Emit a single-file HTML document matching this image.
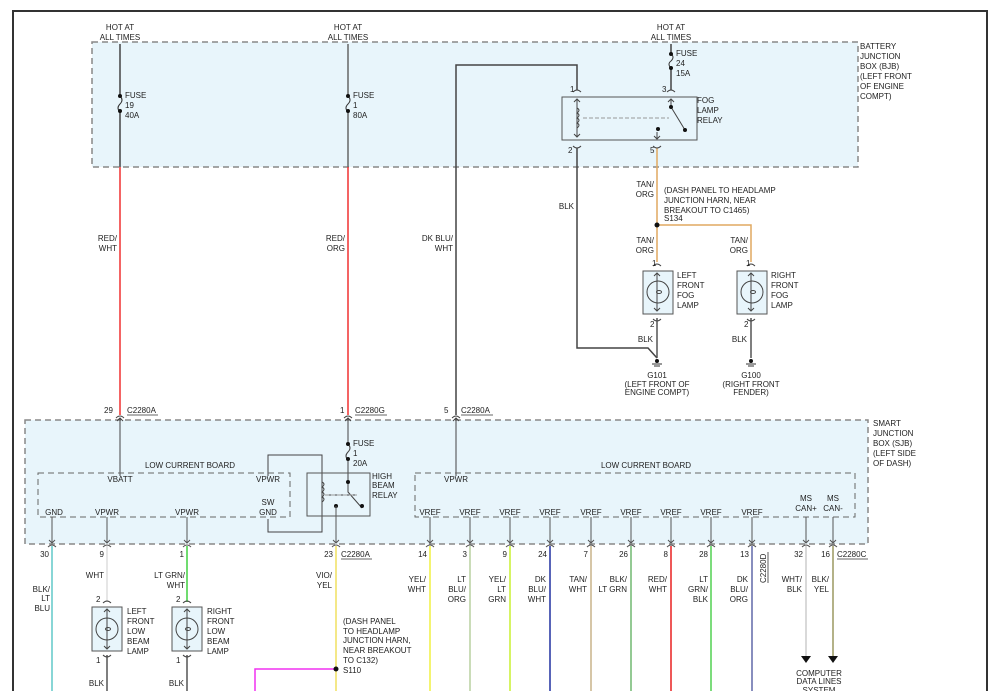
<!DOCTYPE html>
<html><head><meta charset="utf-8"><style>
html,body{margin:0;padding:0;background:#fff;}
svg{display:block;}
text{font-family:"Liberation Sans",sans-serif;font-size:8px;fill:#222;}
.r{text-anchor:end}.m{text-anchor:middle}
</style></head><body>
<svg width="1002" height="691" viewBox="0 0 1002 691" xmlns="http://www.w3.org/2000/svg">
<rect x="0" y="0" width="1002" height="691" fill="#fff"/>
<path d="M13,691 V11 H987 V691" fill="none" stroke="#333" stroke-width="2"/>

<!-- BJB -->
<rect x="92" y="42" width="766" height="125" fill="#e8f5fb" stroke="#888" stroke-width="1.5" stroke-dasharray="6,4"/>
<g fill="#333" class="">
<text class="m" x="120" y="30">HOT AT</text><text class="m" x="120" y="40">ALL TIMES</text>
<text class="m" x="348" y="30">HOT AT</text><text class="m" x="348" y="40">ALL TIMES</text>
<text class="m" x="671" y="30">HOT AT</text><text class="m" x="671" y="40">ALL TIMES</text>
</g>
<text x="860" y="49">BATTERY</text><text x="860" y="59">JUNCTION</text><text x="860" y="69">BOX (BJB)</text><text x="860" y="79">(LEFT FRONT</text><text x="860" y="89">OF ENGINE</text><text x="860" y="99">COMPT)</text>

<!-- wires BJB -->
<g fill="none" stroke-width="1.5">
<path d="M120,44 V96 M120,112 V167" stroke="#444"/>
<path d="M120,167 V415" stroke="#f03030"/>
<path d="M348,44 V96 M348,112 V167" stroke="#666"/>
<path d="M348,167 V415" stroke="#f03030"/>
<path d="M456,415 V65 H577 V90" stroke="#444"/>
<path d="M671,44 V54 M671,68 V90" stroke="#444"/>
<path d="M577,148 V348 H648 L657,358" stroke="#444"/>
<path d="M657,148 V262" stroke="#e0a860"/>
<path d="M657,225 H751 V262" stroke="#e0a860"/>
<path d="M657,318 V358 M751,318 V358" stroke="#555"/>
<!-- fuses -->
<path d="M120,96 q4,4 0,8 q-4,4 0,8" stroke="#333" stroke-width="1"/>
<path d="M348,96 q4,4 0,8 q-4,4 0,8" stroke="#333" stroke-width="1"/>
<path d="M671,54 q4,3 0,7 q-4,3 0,7" stroke="#333" stroke-width="1"/>
</g>
<g fill="#111"><circle cx="120" cy="96" r="2"/><circle cx="120" cy="111" r="2"/><circle cx="348" cy="96" r="2"/><circle cx="348" cy="111" r="2"/><circle cx="671" cy="54" r="2"/><circle cx="671" cy="68" r="2"/></g>
<text x="125" y="98">FUSE</text><text x="125" y="108">19</text><text x="125" y="118">40A</text>
<text x="353" y="98">FUSE</text><text x="353" y="108">1</text><text x="353" y="118">80A</text>
<text x="676" y="56">FUSE</text><text x="676" y="66">24</text><text x="676" y="76">15A</text>

<!-- fog relay -->
<rect x="562" y="97" width="135" height="43" fill="#e8f5fb" stroke="#555" stroke-width="1"/>
<g fill="none" stroke="#444" stroke-width="1">
<path d="M573,92 q4,-4 8,0 M667,92 q4,-4 8,0 M573,146 q4,4 8,0 M653,146 q4,4 8,0"/>
<path d="M577,99 V137 M574,102 l3,-3 l3,3 M574,134 l3,3 l3,-3"/>
<path d="M577,108 q4,2 0,5 q4,2 0,5 q4,2 0,5 q4,2 0,5" />
<path d="M583,118 H669" stroke="#999" stroke-dasharray="4,2"/>
<path d="M671,99 V107 L685,130 M668,102 l3,-3 l3,3"/>
<path d="M657,132 V139 M654,136 l3,3 l3,-3"/>
</g>
<g fill="#111"><circle cx="671" cy="107" r="2"/><circle cx="685" cy="130" r="2"/><circle cx="658" cy="129" r="2"/><circle cx="657" cy="225" r="2.5"/></g>
<text x="697" y="103">FOG</text><text x="697" y="113">LAMP</text><text x="697" y="123">RELAY</text>
<text x="570" y="92">1</text><text x="662" y="92">3</text><text x="568" y="153">2</text><text x="650" y="153">5</text>

<text class="r" x="117" y="241">RED/</text><text class="r" x="117" y="251">WHT</text>
<text class="r" x="345" y="241">RED/</text><text class="r" x="345" y="251">ORG</text>
<text class="r" x="453" y="241">DK BLU/</text><text class="r" x="453" y="251">WHT</text>
<text class="r" x="574" y="209">BLK</text>
<text class="r" x="654" y="187">TAN/</text><text class="r" x="654" y="197">ORG</text>
<text x="664" y="193">(DASH PANEL TO HEADLAMP</text><text x="664" y="203">JUNCTION HARN, NEAR</text><text x="664" y="213">BREAKOUT TO C1465)</text><text x="664" y="221">S134</text>
<text class="r" x="654" y="243">TAN/</text><text class="r" x="654" y="253">ORG</text>
<text class="r" x="748" y="243">TAN/</text><text class="r" x="748" y="253">ORG</text>

<!-- fog lamps -->
<g id="fl">
<rect x="643" y="271" width="30" height="43" fill="#e8f5fb" stroke="#555"/>
<g fill="none" stroke="#444" stroke-width="1">
<path d="M653,266 q4,-4 8,0 M653,319 q4,4 8,0"/>
<circle cx="658" cy="292" r="11"/>
<path d="M657,273 V311 M654,276 l3,-3 l3,3 M654,308 l3,3 l3,-3"/>
<ellipse cx="659" cy="292" rx="2.5" ry="1.5"/>
</g></g>
<use href="#fl" transform="translate(94,0)"/>
<text x="652" y="266">1</text><text x="746" y="266">1</text><text x="650" y="327">2</text><text x="744" y="327">2</text>
<text x="677" y="278">LEFT</text><text x="677" y="288">FRONT</text><text x="677" y="298">FOG</text><text x="677" y="308">LAMP</text>
<text x="771" y="278">RIGHT</text><text x="771" y="288">FRONT</text><text x="771" y="298">FOG</text><text x="771" y="308">LAMP</text>
<text class="r" x="653" y="342">BLK</text><text class="r" x="747" y="342">BLK</text>
<g fill="#111"><circle cx="657" cy="361" r="2"/><circle cx="751" cy="361" r="2"/></g>
<path d="M652,364 h10 M654,366 h6 M752,364 h0 M746,364 h10 M748,366 h6" stroke="#333"/>
<text class="m" x="657" y="378">G101</text><text class="m" x="657" y="387">(LEFT FRONT OF</text><text class="m" x="657" y="395">ENGINE COMPT)</text>
<text class="m" x="751" y="378">G100</text><text class="m" x="751" y="387">(RIGHT FRONT</text><text class="m" x="751" y="395">FENDER)</text>

<!-- SJB -->
<rect x="25" y="420" width="843" height="124" fill="#e8f5fb" stroke="#888" stroke-width="1.5" stroke-dasharray="6,4"/>
<text x="873" y="426">SMART</text><text x="873" y="436">JUNCTION</text><text x="873" y="446">BOX (SJB)</text><text x="873" y="456">(LEFT SIDE</text><text x="873" y="466">OF DASH)</text>
<text x="104" y="413">29</text><text x="127" y="413">C2280A</text><path d="M127,415 H158" stroke="#333" stroke-width=".8"/>
<text x="340" y="413">1</text><text x="355" y="413">C2280G</text><path d="M355,415 H387" stroke="#333" stroke-width=".8"/>
<text x="444" y="413">5</text><text x="461" y="413">C2280A</text><path d="M461,415 H493" stroke="#333" stroke-width=".8"/>
<g fill="none" stroke="#444" stroke-width="1">
<path d="M116,418 q4,-4 8,0 M344,418 q4,-4 8,0 M452,418 q4,-4 8,0"/>
<path d="M120,418 V476 M117,421 l3,-3 l3,3"/>
<path d="M348,418 V444 M348,460 V492 L362,508 M345,421 l3,-3 l3,3"/>
<path d="M348,444 q4,4 0,8 q-4,4 0,8" />
<path d="M456,418 V476 M453,421 l3,-3 l3,3"/>
<path d="M268,476 V455 H322 V532 H268 V519"/>
</g>
<g fill="#111"><circle cx="348" cy="444" r="2"/><circle cx="348" cy="459" r="2"/><circle cx="348" cy="482" r="2"/><circle cx="362" cy="506" r="2"/><circle cx="336" cy="506" r="2"/></g>
<text x="353" y="446">FUSE</text><text x="353" y="456">1</text><text x="353" y="466">20A</text>
<rect x="38" y="473" width="252" height="44" fill="none" stroke="#666" stroke-dasharray="6,4"/>
<rect x="415" y="473" width="440" height="44" fill="none" stroke="#666" stroke-dasharray="6,4"/>
<rect x="307" y="473" width="63" height="43" fill="none" stroke="#555"/>
<path d="M322,482 q4,2 0,5 q4,2 0,5 q4,2 0,5 q4,2 0,5 M325,495 H357" fill="none" stroke="#444"/>
<path d="M325,495 H357" stroke="#999" stroke-dasharray="4,2"/>
<text x="372" y="479">HIGH</text><text x="372" y="488">BEAM</text><text x="372" y="498">RELAY</text>
<text class="m" x="190" y="468">LOW CURRENT BOARD</text>
<text class="m" x="646" y="468">LOW CURRENT BOARD</text>
<text class="m" x="120" y="482">VBATT</text><text class="m" x="268" y="482">VPWR</text>
<text class="m" x="268" y="505">SW</text><text class="m" x="268" y="515">GND</text>
<text class="m" x="54" y="515">GND</text><text class="m" x="107" y="515">VPWR</text><text class="m" x="187" y="515">VPWR</text>
<text class="m" x="456" y="482">VPWR</text>
<g class="m">
<text class="m" x="430" y="515">VREF</text><text class="m" x="470" y="515">VREF</text><text class="m" x="510" y="515">VREF</text><text class="m" x="550" y="515">VREF</text><text class="m" x="591" y="515">VREF</text><text class="m" x="631" y="515">VREF</text><text class="m" x="671" y="515">VREF</text><text class="m" x="711" y="515">VREF</text><text class="m" x="752" y="515">VREF</text>
</g>
<text class="m" x="806" y="501">MS</text><text class="m" x="806" y="511">CAN+</text>
<text class="m" x="833" y="501">MS</text><text class="m" x="833" y="511">CAN-</text>
<!-- pins down arrows -->
<g fill="none" stroke="#555" stroke-width="1">
<path d="M52,517 V543 M107,517 V543 M187,517 V543 M336,506 V543 M430,517 V543 M470,517 V543 M510,517 V543 M550,517 V543 M591,517 V543 M631,517 V543 M671,517 V543 M711,517 V543 M752,517 V543 M806,517 V543 M833,517 V543"/>
<path d="M49,540 l3,3 l3,-3 M104,540 l3,3 l3,-3 M184,540 l3,3 l3,-3 M333,540 l3,3 l3,-3 M427,540 l3,3 l3,-3 M467,540 l3,3 l3,-3 M507,540 l3,3 l3,-3 M547,540 l3,3 l3,-3 M588,540 l3,3 l3,-3 M628,540 l3,3 l3,-3 M668,540 l3,3 l3,-3 M708,540 l3,3 l3,-3 M749,540 l3,3 l3,-3 M803,540 l3,3 l3,-3 M830,540 l3,3 l3,-3"/>
<path d="M48,547 q4,-4 8,0 M103,547 q4,-4 8,0 M183,547 q4,-4 8,0 M332,547 q4,-4 8,0 M426,547 q4,-4 8,0 M466,547 q4,-4 8,0 M506,547 q4,-4 8,0 M546,547 q4,-4 8,0 M587,547 q4,-4 8,0 M627,547 q4,-4 8,0 M667,547 q4,-4 8,0 M707,547 q4,-4 8,0 M748,547 q4,-4 8,0 M802,547 q4,-4 8,0 M829,547 q4,-4 8,0"/>
</g>
<!-- bottom wires -->
<g fill="none" stroke-width="1.5">
<path d="M52,546 V691" stroke="#60c8c8"/>
<path d="M107,546 V602" stroke="#ddd"/>
<path d="M187,546 V602" stroke="#40d040"/>
<path d="M107,655 V691 M187,655 V691" stroke="#555"/>
<path d="M336,546 V691" stroke="#f0e060"/>
<path d="M336,669 H255 V691" stroke="#f030f0"/>
<path d="M430,546 V691" stroke="#f0f040"/>
<path d="M470,546 V691" stroke="#b8d0a0"/>
<path d="M510,546 V691" stroke="#c8f030"/>
<path d="M550,546 V691" stroke="#2030a0"/>
<path d="M591,546 V691" stroke="#c8b48a"/>
<path d="M631,546 V691" stroke="#70b870"/>
<path d="M671,546 V691" stroke="#e82020"/>
<path d="M711,546 V691" stroke="#50d050"/>
<path d="M752,546 V691" stroke="#6068a8"/>
<path d="M806,546 V656" stroke="#ccc"/>
<path d="M833,546 V656" stroke="#9a9860"/>
</g>
<path d="M801,656 h10 l-5,7z M828,656 h10 l-5,7z" fill="#111"/>
<circle cx="336" cy="669" r="2.5" fill="#111"/>
<text class="r" x="49" y="557">30</text><text class="r" x="104" y="557">9</text><text class="r" x="184" y="557">1</text><text class="r" x="333" y="557">23</text>
<text x="341" y="557">C2280A</text><path d="M341,559 H372" stroke="#333" stroke-width=".8"/>
<text class="r" x="427" y="557">14</text><text class="r" x="467" y="557">3</text><text class="r" x="507" y="557">9</text><text class="r" x="547" y="557">24</text><text class="r" x="588" y="557">7</text><text class="r" x="628" y="557">26</text><text class="r" x="668" y="557">8</text><text class="r" x="708" y="557">28</text><text class="r" x="749" y="557">13</text><text class="r" x="803" y="557">32</text><text class="r" x="830" y="557">16</text>
<text x="837" y="557">C2280C</text><path d="M837,559 H868" stroke="#333" stroke-width=".8"/>
<text transform="translate(766,583) rotate(-90)">C2280D</text><path d="M768,552 V583" stroke="#333" stroke-width=".8"/>
<text class="r" x="50" y="592">BLK/</text><text class="r" x="50" y="601">LT</text><text class="r" x="50" y="611">BLU</text>
<text class="r" x="104" y="578">WHT</text>
<text class="r" x="185" y="578">LT GRN/</text><text class="r" x="185" y="588">WHT</text>
<text class="r" x="332" y="578">VIO/</text><text class="r" x="332" y="588">YEL</text>
<text x="343" y="624">(DASH PANEL</text><text x="343" y="634">TO HEADLAMP</text><text x="343" y="643">JUNCTION HARN,</text><text x="343" y="653">NEAR BREAKOUT</text><text x="343" y="663">TO C132)</text><text x="343" y="673">S110</text>
<g>
<text class="r" x="426" y="582">YEL/</text><text class="r" x="426" y="592">WHT</text>
<text class="r" x="466" y="582">LT</text><text class="r" x="466" y="592">BLU/</text><text class="r" x="466" y="602">ORG</text>
<text class="r" x="506" y="582">YEL/</text><text class="r" x="506" y="592">LT</text><text class="r" x="506" y="602">GRN</text>
<text class="r" x="546" y="582">DK</text><text class="r" x="546" y="592">BLU/</text><text class="r" x="546" y="602">WHT</text>
<text class="r" x="587" y="582">TAN/</text><text class="r" x="587" y="592">WHT</text>
<text class="r" x="627" y="582">BLK/</text><text class="r" x="627" y="592">LT GRN</text>
<text class="r" x="667" y="582">RED/</text><text class="r" x="667" y="592">WHT</text>
<text class="r" x="708" y="582">LT</text><text class="r" x="708" y="592">GRN/</text><text class="r" x="708" y="602">BLK</text>
<text class="r" x="748" y="582">DK</text><text class="r" x="748" y="592">BLU/</text><text class="r" x="748" y="602">ORG</text>
<text class="r" x="802" y="582">WHT/</text><text class="r" x="802" y="592">BLK</text>
<text class="r" x="829" y="582">BLK/</text><text class="r" x="829" y="592">YEL</text>
</g>
<text class="m" x="819" y="676">COMPUTER</text><text class="m" x="819" y="684">DATA LINES</text><text class="m" x="819" y="693">SYSTEM</text>
<!-- low beam lamps -->
<g id="lb">
<rect x="92" y="607" width="30" height="44" fill="#e8f5fb" stroke="#555"/>
<g fill="none" stroke="#444" stroke-width="1">
<path d="M103,603 q4,-4 8,0 M103,655 q4,4 8,0"/>
<circle cx="107" cy="629" r="11"/>
<path d="M107,609 V649 M104,612 l3,-3 l3,3 M104,646 l3,3 l3,-3"/>
<ellipse cx="108" cy="629" rx="2.5" ry="1.5"/>
</g></g>
<use href="#lb" transform="translate(80,0)"/>
<text x="96" y="602">2</text><text x="176" y="602">2</text><text x="96" y="663">1</text><text x="176" y="663">1</text>
<text x="127" y="614">LEFT</text><text x="127" y="624">FRONT</text><text x="127" y="634">LOW</text><text x="127" y="644">BEAM</text><text x="127" y="654">LAMP</text>
<text x="207" y="614">RIGHT</text><text x="207" y="624">FRONT</text><text x="207" y="634">LOW</text><text x="207" y="644">BEAM</text><text x="207" y="654">LAMP</text>
<text class="r" x="104" y="686">BLK</text><text class="r" x="184" y="686">BLK</text>
</svg>
</body></html>
